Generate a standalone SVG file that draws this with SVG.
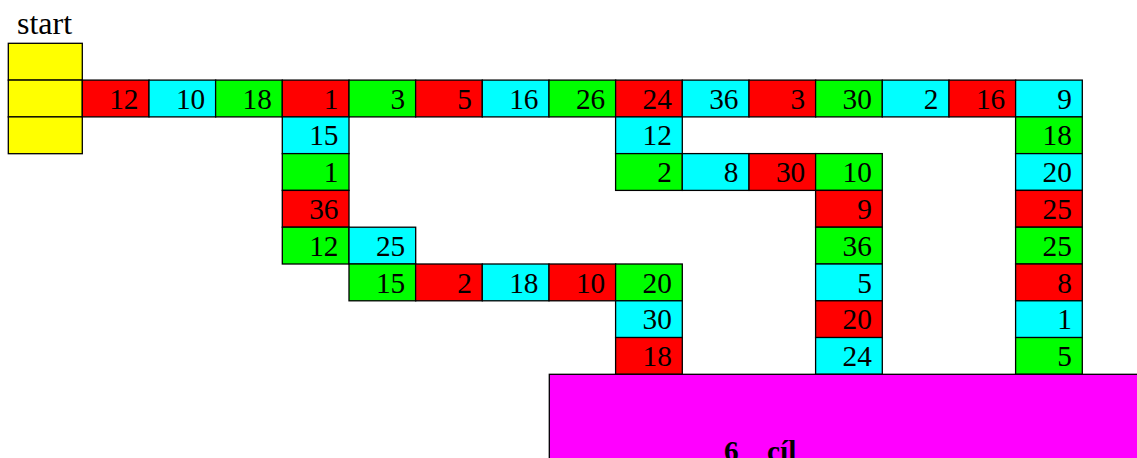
<svg xmlns="http://www.w3.org/2000/svg" width="1137" height="458" viewBox="0 0 1137 458" font-family="Liberation Serif">
<style>
.cell{stroke:#000;stroke-width:1.3}
.r{fill:#ff0000}.c{fill:#00ffff}.g{fill:#00ff00}.y{fill:#ffff00}.m{fill:#ff00ff}
text{font-family:'Liberation Serif',serif;font-size:29.3px;fill:#000}
.n text{text-anchor:end}
.b{font-weight:bold}
</style>
<text x="17" y="34.3" style="font-size:32px">start</text>
<g id="start">
<rect class="cell y" x="8.3" y="43.3" width="74" height="36.8"/>
<rect class="cell y" x="8.3" y="80.1" width="74" height="36.8"/>
<rect class="cell y" x="8.3" y="116.9" width="74" height="36.8"/>
</g>
<g id="connectors"/>
<g class="n">
<g id="r1c1" transform="translate(82.3,80.1)"><rect class="cell r" width="66.7" height="36.8"/><text x="56.2" y="28.5">12</text></g>
<g id="r1c2" transform="translate(149,80.1)"><rect class="cell c" width="66.7" height="36.8"/><text x="56.2" y="28.5">10</text></g>
<g id="r1c3" transform="translate(215.6,80.1)"><rect class="cell g" width="66.7" height="36.8"/><text x="56.2" y="28.5">18</text></g>
<g id="r1c4" transform="translate(282.3,80.1)"><rect class="cell r" width="66.7" height="36.8"/><text x="56.2" y="28.5">1</text></g>
<g id="r1c5" transform="translate(349,80.1)"><rect class="cell g" width="66.7" height="36.8"/><text x="56.2" y="28.5">3</text></g>
<g id="r1c6" transform="translate(415.6,80.1)"><rect class="cell r" width="66.7" height="36.8"/><text x="56.2" y="28.5">5</text></g>
<g id="r1c7" transform="translate(482.3,80.1)"><rect class="cell c" width="66.7" height="36.8"/><text x="56.2" y="28.5">16</text></g>
<g id="r1c8" transform="translate(549,80.1)"><rect class="cell g" width="66.7" height="36.8"/><text x="56.2" y="28.5">26</text></g>
<g id="r1c9" transform="translate(615.6,80.1)"><rect class="cell r" width="66.7" height="36.8"/><text x="56.2" y="28.5">24</text></g>
<g id="r1c10" transform="translate(682.3,80.1)"><rect class="cell c" width="66.7" height="36.8"/><text x="56.2" y="28.5">36</text></g>
<g id="r1c11" transform="translate(749,80.1)"><rect class="cell r" width="66.7" height="36.8"/><text x="56.2" y="28.5">3</text></g>
<g id="r1c12" transform="translate(815.6,80.1)"><rect class="cell g" width="66.7" height="36.8"/><text x="56.2" y="28.5">30</text></g>
<g id="r1c13" transform="translate(882.3,80.1)"><rect class="cell c" width="66.7" height="36.8"/><text x="56.2" y="28.5">2</text></g>
<g id="r1c14" transform="translate(949,80.1)"><rect class="cell r" width="66.7" height="36.8"/><text x="56.2" y="28.5">16</text></g>
<g id="r1c15" transform="translate(1015.6,80.1)"><rect class="cell c" width="66.7" height="36.8"/><text x="56.2" y="28.5">9</text></g>

<g id="r2c4" transform="translate(282.3,116.9)"><rect class="cell c" width="66.7" height="36.8"/><text x="56.2" y="28.5">15</text></g>
<g id="r2c9" transform="translate(615.6,116.9)"><rect class="cell c" width="66.7" height="36.8"/><text x="56.2" y="28.5">12</text></g>
<g id="r2c15" transform="translate(1015.6,116.9)"><rect class="cell g" width="66.7" height="36.8"/><text x="56.2" y="28.5">18</text></g>

<g id="r3c4" transform="translate(282.3,153.6)"><rect class="cell g" width="66.7" height="36.8"/><text x="56.2" y="28.5">1</text></g>
<g id="r3c9" transform="translate(615.6,153.6)"><rect class="cell g" width="66.7" height="36.8"/><text x="56.2" y="28.5">2</text></g>
<g id="r3c10" transform="translate(682.3,153.6)"><rect class="cell c" width="66.7" height="36.8"/><text x="56.2" y="28.5">8</text></g>
<g id="r3c11" transform="translate(749,153.6)"><rect class="cell r" width="66.7" height="36.8"/><text x="56.2" y="28.5">30</text></g>
<g id="r3c12" transform="translate(815.6,153.6)"><rect class="cell g" width="66.7" height="36.8"/><text x="56.2" y="28.5">10</text></g>
<g id="r3c15" transform="translate(1015.6,153.6)"><rect class="cell c" width="66.7" height="36.8"/><text x="56.2" y="28.5">20</text></g>

<g id="r4c4" transform="translate(282.3,190.4)"><rect class="cell r" width="66.7" height="36.8"/><text x="56.2" y="28.5">36</text></g>
<g id="r4c12" transform="translate(815.6,190.4)"><rect class="cell r" width="66.7" height="36.8"/><text x="56.2" y="28.5">9</text></g>
<g id="r4c15" transform="translate(1015.6,190.4)"><rect class="cell r" width="66.7" height="36.8"/><text x="56.2" y="28.5">25</text></g>

<g id="r5c4" transform="translate(282.3,227.2)"><rect class="cell g" width="66.7" height="36.8"/><text x="56.2" y="28.5">12</text></g>
<g id="r5c5" transform="translate(349,227.2)"><rect class="cell c" width="66.7" height="36.8"/><text x="56.2" y="28.5">25</text></g>
<g id="r5c12" transform="translate(815.6,227.2)"><rect class="cell g" width="66.7" height="36.8"/><text x="56.2" y="28.5">36</text></g>
<g id="r5c15" transform="translate(1015.6,227.2)"><rect class="cell g" width="66.7" height="36.8"/><text x="56.2" y="28.5">25</text></g>

<g id="r6c5" transform="translate(349,264)"><rect class="cell g" width="66.7" height="36.8"/><text x="56.2" y="28.5">15</text></g>
<g id="r6c6" transform="translate(415.6,264)"><rect class="cell r" width="66.7" height="36.8"/><text x="56.2" y="28.5">2</text></g>
<g id="r6c7" transform="translate(482.3,264)"><rect class="cell c" width="66.7" height="36.8"/><text x="56.2" y="28.5">18</text></g>
<g id="r6c8" transform="translate(549,264)"><rect class="cell r" width="66.7" height="36.8"/><text x="56.2" y="28.5">10</text></g>
<g id="r6c9" transform="translate(615.6,264)"><rect class="cell g" width="66.7" height="36.8"/><text x="56.2" y="28.5">20</text></g>
<g id="r6c12" transform="translate(815.6,264)"><rect class="cell c" width="66.7" height="36.8"/><text x="56.2" y="28.5">5</text></g>
<g id="r6c15" transform="translate(1015.6,264)"><rect class="cell r" width="66.7" height="36.8"/><text x="56.2" y="28.5">8</text></g>

<g id="r7c9" transform="translate(615.6,300.8)"><rect class="cell c" width="66.7" height="36.8"/><text x="56.2" y="28.5">30</text></g>
<g id="r7c12" transform="translate(815.6,300.8)"><rect class="cell r" width="66.7" height="36.8"/><text x="56.2" y="28.5">20</text></g>
<g id="r7c15" transform="translate(1015.6,300.8)"><rect class="cell c" width="66.7" height="36.8"/><text x="56.2" y="28.5">1</text></g>

<g id="r8c9" transform="translate(615.6,337.5)"><rect class="cell r" width="66.7" height="36.8"/><text x="56.2" y="28.5">18</text></g>
<g id="r8c12" transform="translate(815.6,337.5)"><rect class="cell c" width="66.7" height="36.8"/><text x="56.2" y="28.5">24</text></g>
<g id="r8c15" transform="translate(1015.6,337.5)"><rect class="cell g" width="66.7" height="36.8"/><text x="56.2" y="28.5">5</text></g>
</g>
<g id="goal">
<rect class="cell m" x="549.3" y="374.3" width="600" height="100"/>
<text class="b" x="724" y="461">6</text>
<text class="b" x="767" y="461">cíl</text>
</g>
</svg>
